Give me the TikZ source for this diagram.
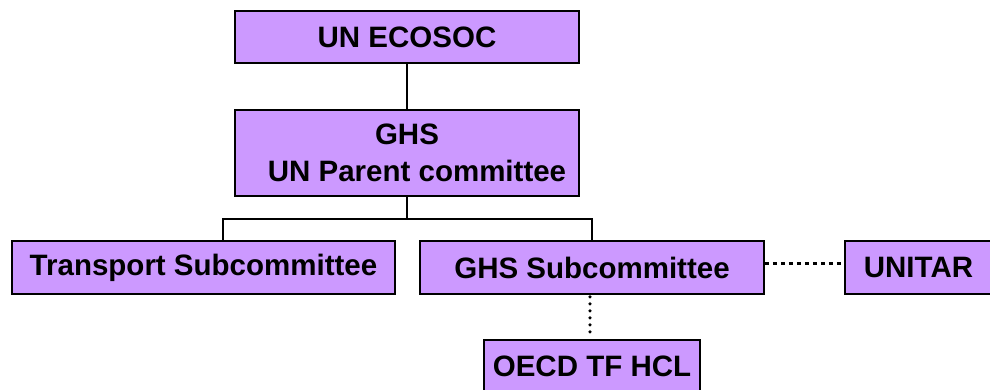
\documentclass[tikz,border=0pt]{standalone}
\usepackage{fontspec}
\setmainfont{Liberation Sans}
\definecolor{boxfill}{HTML}{CC99FF}
\begin{document}
\begin{tikzpicture}[x=1pt,y=-1pt,
  box/.style={draw=black, line width=1.7pt, fill=boxfill, inner sep=0pt,
    font=\bfseries\fontsize{29.5}{37}\selectfont, align=center},
  link/.style={draw=black, line width=1.5pt},
  sqdots/.style={draw=black, line width=3.2pt, dash pattern=on 4pt off 4pt},
  rddots/.style={draw=black, line width=3.6pt, line cap=round, dash pattern=on 0pt off 7pt}]
\useasboundingbox (0,0) rectangle (990,389);
\clip (0,0) rectangle (990,389);
\node[box, minimum width=344pt, minimum height=52pt] (eco) at (407,37) {\raisebox{-1.5pt}{UN ECOSOC}};
\node[box, minimum width=344pt, minimum height=86pt] (parent) at (407,153) {GHS\\\hspace*{20pt}UN Parent committee};
\node[box, minimum width=383pt, minimum height=53pt] (trans) at (203.5,267.5) {\raisebox{-2pt}{Transport Subcommittee}};
\node[box, minimum width=344pt, minimum height=53pt] (ghssub) at (592,267.5) {\raisebox{-2pt}{GHS Subcommittee}};
\node[box, minimum width=147pt, minimum height=53pt] (unitar) at (918.5,267.5) {\raisebox{-2pt}{UNITAR}};
\node[box, minimum width=216pt, minimum height=53pt] (oecd) at (592,366.5) {OECD TF HCL};
\draw[link] (eco.south) -- (parent.south |- eco.south) -- (parent.north);
\draw[link] (parent.south) -- (parent.south |- 0,219) coordinate (j);
\draw[link] ([xshift=19.5pt]trans.north) |- (j) -| (ghssub.north);
\draw[sqdots] ([yshift=4pt]ghssub.east) -- ([yshift=4pt]unitar.west);
\draw[rddots] ([xshift=-2pt,yshift=-2pt]ghssub.south) -- ([xshift=-2pt,yshift=2pt]oecd.north);
\end{tikzpicture}
\end{document}
